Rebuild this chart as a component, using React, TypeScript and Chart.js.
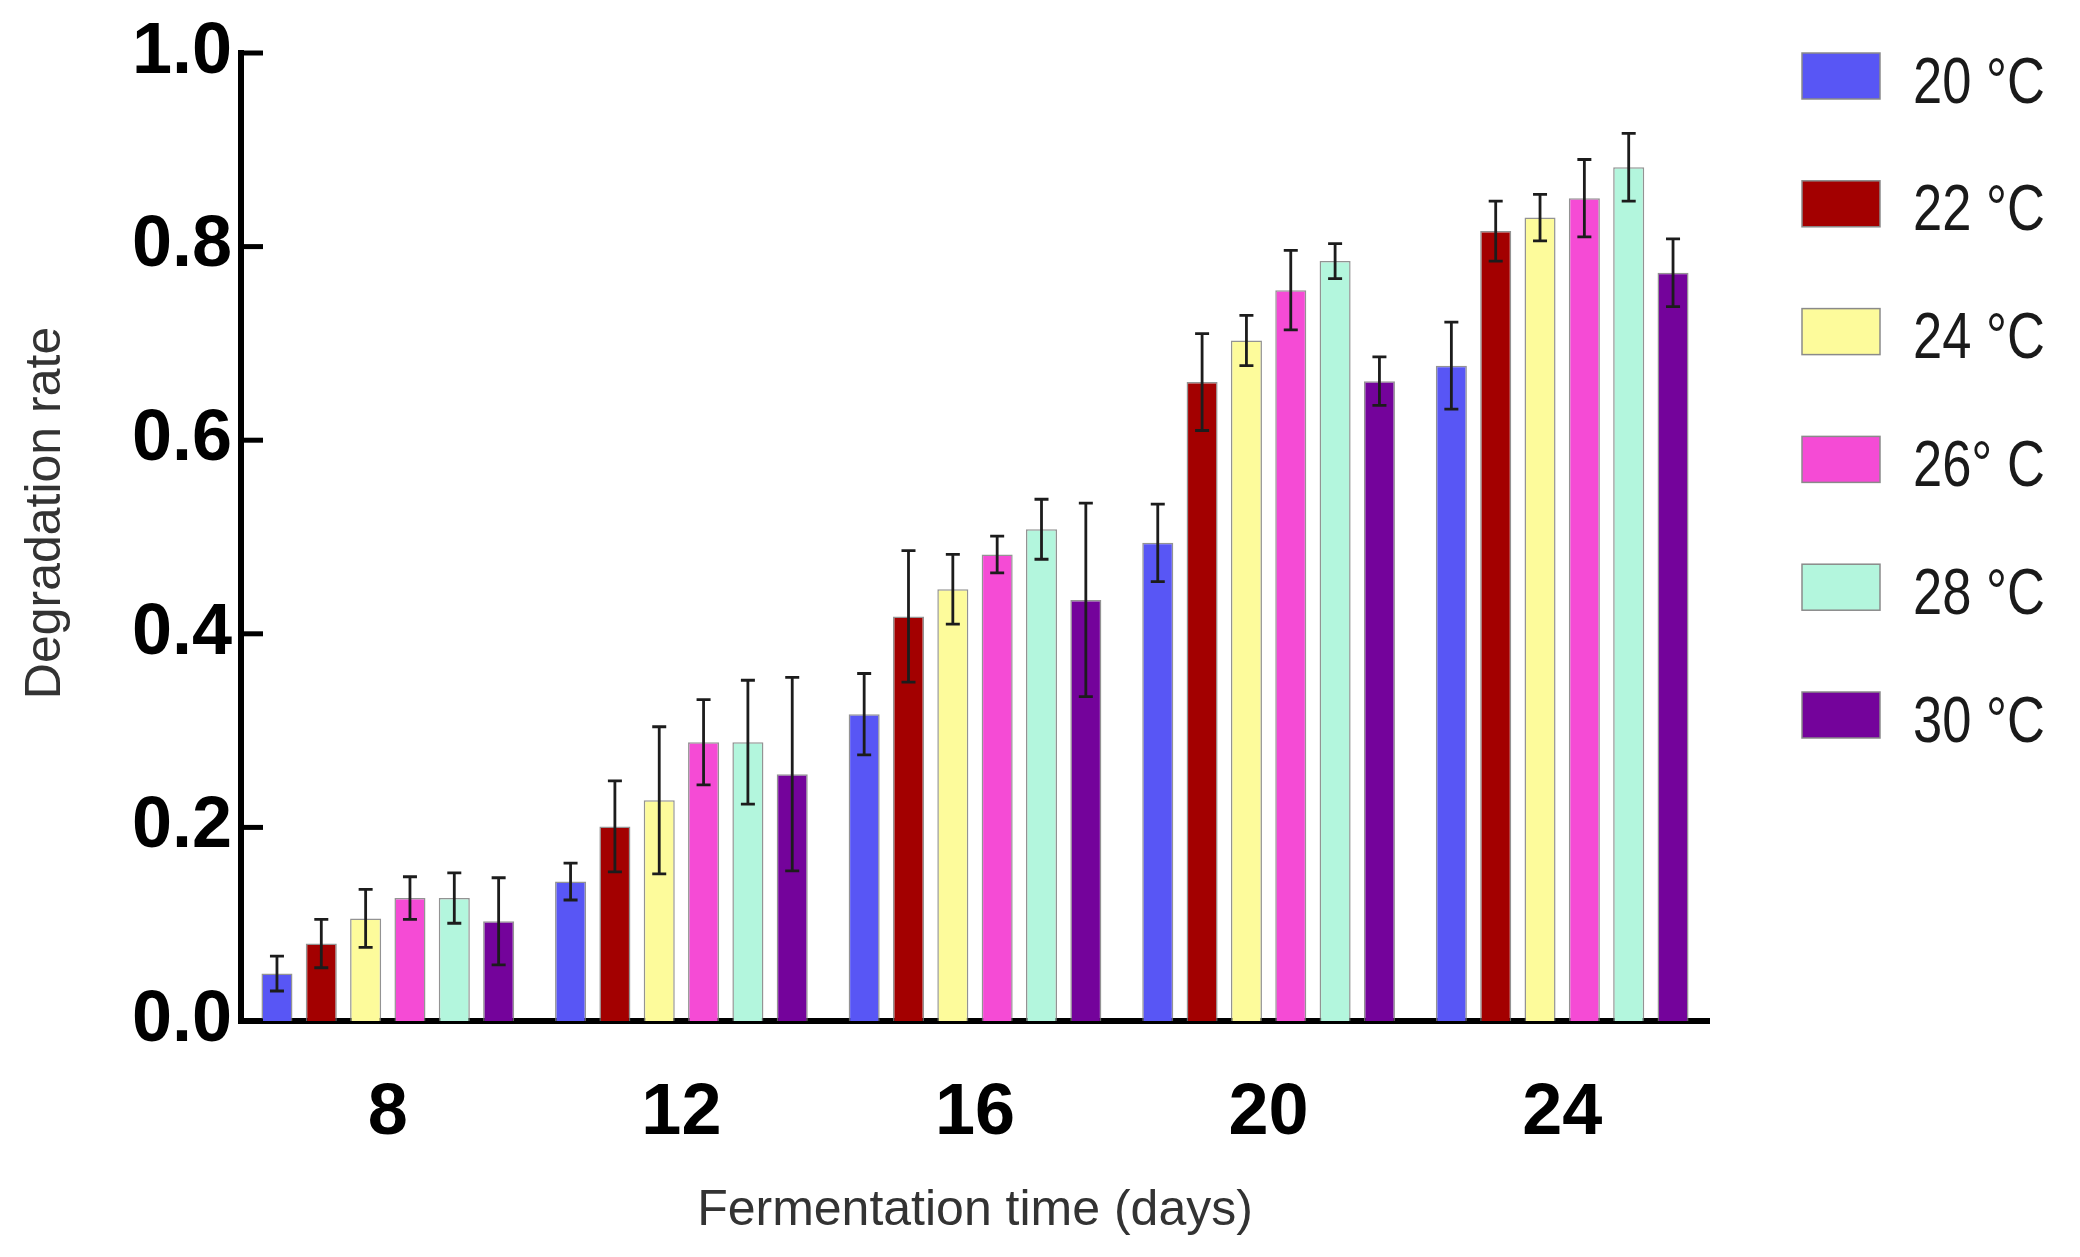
import { useEffect, useRef } from "react"
import { Chart, registerables, type Plugin } from "chart.js"

Chart.register(...registerables)

const days = ["8", "12", "16", "20", "24"]
const seriesLabels = ["20 °C", "22 °C", "24 °C", "26° C", "28 °C", "30 °C"]
const seriesColors = ["#5856f5", "#a30000", "#fdfb9b", "#f54bd5", "#b3f6dd", "#74039b"]

// mean degradation rate per temperature
const rate20 = [0.049, 0.144, 0.317, 0.494, 0.677]
const rate22 = [0.08, 0.201, 0.418, 0.66, 0.816]
const rate24 = [0.106, 0.228, 0.446, 0.703, 0.83]
const rate26 = [0.127, 0.288, 0.482, 0.755, 0.85]
const rate28 = [0.127, 0.288, 0.508, 0.785, 0.882]
const rate30 = [0.103, 0.255, 0.435, 0.661, 0.773]

// error bar half-lengths
const err20 = [0.018, 0.019, 0.042, 0.04, 0.045]
const err22 = [0.025, 0.047, 0.068, 0.05, 0.031]
const err24 = [0.03, 0.076, 0.036, 0.026, 0.024]
const err26 = [0.022, 0.044, 0.019, 0.041, 0.04]
const err28 = [0.026, 0.064, 0.031, 0.018, 0.035]
const err30 = [0.045, 0.1, 0.1, 0.025, 0.035]

const yTicks = [0, 0.2, 0.4, 0.6, 0.8, 1.0]

const rates = [rate20, rate22, rate24, rate26, rate28, rate30]
const errors = [err20, err22, err24, err26, err28, err30]

const FONT = "'Liberation Sans', Arial, Helvetica, sans-serif"

const errorBars: Plugin<"bar"> = {
  id: "errorBars",
  afterDatasetsDraw(chart) {
    const { ctx } = chart
    const y = chart.scales.y
    ctx.save()
    ctx.strokeStyle = "#1c1c1c"
    ctx.lineWidth = 2.8
    chart.data.datasets.forEach((_, di) => {
      const meta = chart.getDatasetMeta(di)
      meta.data.forEach((bar, i) => {
        const v = rates[di][i]
        const e = errors[di][i]
        const top = y.getPixelForValue(v + e)
        const bot = y.getPixelForValue(v - e)
        const x = bar.x
        ctx.beginPath()
        ctx.moveTo(x, top)
        ctx.lineTo(x, bot)
        ctx.moveTo(x - 7, top)
        ctx.lineTo(x + 7, top)
        ctx.moveTo(x - 7, bot)
        ctx.lineTo(x + 7, bot)
        ctx.stroke()
      })
    })
    ctx.restore()
  },
}

const innerTicks: Plugin<"bar"> = {
  id: "innerTicks",
  afterDraw(chart) {
    const { ctx, chartArea } = chart
    const y = chart.scales.y
    ctx.save()
    ctx.strokeStyle = "#000"
    ctx.lineWidth = 5
    yTicks.forEach((t) => {
      const py = y.getPixelForValue(t)
      ctx.beginPath()
      ctx.moveTo(chartArea.left, py)
      ctx.lineTo(chartArea.left + 22, py)
      ctx.stroke()
    })
    // y axis title, set a little above the plot's middle as in the original
    ctx.translate(46, 513)
    ctx.rotate(-Math.PI / 2)
    ctx.font = `50px ${FONT}`
    ctx.fillStyle = "#333"
    ctx.textAlign = "center"
    ctx.textBaseline = "middle"
    ctx.fillText("Degradation rate", 0, 0)
    ctx.restore()
  },
}

const sideLegend: Plugin<"bar"> = {
  id: "sideLegend",
  afterDraw(chart) {
    const { ctx } = chart
    ctx.save()
    chart.data.datasets.forEach((ds, i) => {
      const cy = 76 + i * 127.8
      ctx.fillStyle = seriesColors[i]
      ctx.fillRect(1802, cy - 23, 78, 46)
      ctx.strokeStyle = "#8a8a8a"
      ctx.lineWidth = 1.5
      ctx.strokeRect(1802, cy - 23, 78, 46)
      ctx.save()
      ctx.translate(1913, cy + 9)
      ctx.scale(0.82, 1)
      ctx.font = `64px ${FONT}`
      ctx.textBaseline = "middle"
      ctx.textAlign = "left"
      ctx.fillStyle = "#1a1a1a"
      ctx.fillText(String(ds.label), 0, 0)
      ctx.restore()
    })
    ctx.restore()
  },
}

export default function App() {
  const chartRef = useRef<HTMLCanvasElement>(null)
  const chartInstance = useRef<Chart | null>(null)

  useEffect(() => {
    document.body.style.margin = "0"
    if (!chartRef.current) return
    const ctx = chartRef.current.getContext("2d")
    if (!ctx) return

    if (chartInstance.current) {
      chartInstance.current.destroy()
    }

    chartInstance.current = new Chart(ctx, {
      type: "bar",
      data: {
        labels: days,
        datasets: seriesLabels.map((label, i) => ({
          label,
          data: rates[i],
          backgroundColor: seriesColors[i],
          borderColor: "rgba(120,120,120,0.8)",
          borderWidth: 1.5,
          barPercentage: 0.7,
          categoryPercentage: 0.906,
        })),
      },
      options: {
        animation: false,
        responsive: false,
        devicePixelRatio: 1,
        layout: { padding: { left: 0, right: 371, top: 53, bottom: 0 } },
        plugins: {
          legend: { display: false },
          tooltip: { enabled: false },
        },
        scales: {
          x: {
            grid: { display: false, drawTicks: false, tickLength: 0 },
            border: { display: true, color: "#000", width: 6 },
            ticks: {
              padding: 50,
              color: "#000",
              font: { family: FONT, size: 72, weight: "bold" },
            },
            title: {
              display: true,
              text: "Fermentation time (days)",
              color: "#333",
              font: { family: FONT, size: 50 },
              padding: { top: 0, bottom: 16 },
            },
            afterFit: (scale) => {
              scale.height = 236
            },
          },
          y: {
            min: 0,
            max: 1,
            grid: { display: false, drawTicks: false, tickLength: 0 },
            border: { display: true, color: "#000", width: 6 },
            ticks: {
              stepSize: 0.2,
              padding: 9,
              color: "#000",
              font: { family: FONT, size: 72, weight: "bold" },
              callback: (v) => Number(v).toFixed(1),
            },
            afterFit: (scale) => {
              scale.width = 241
            },
          },
        },
      },
      plugins: [errorBars, innerTicks, sideLegend],
    })

    return () => {
      if (chartInstance.current) {
        chartInstance.current.destroy()
        chartInstance.current = null
      }
    }
  }, [])

  return <canvas ref={chartRef} width={2080} height={1257} />
}
